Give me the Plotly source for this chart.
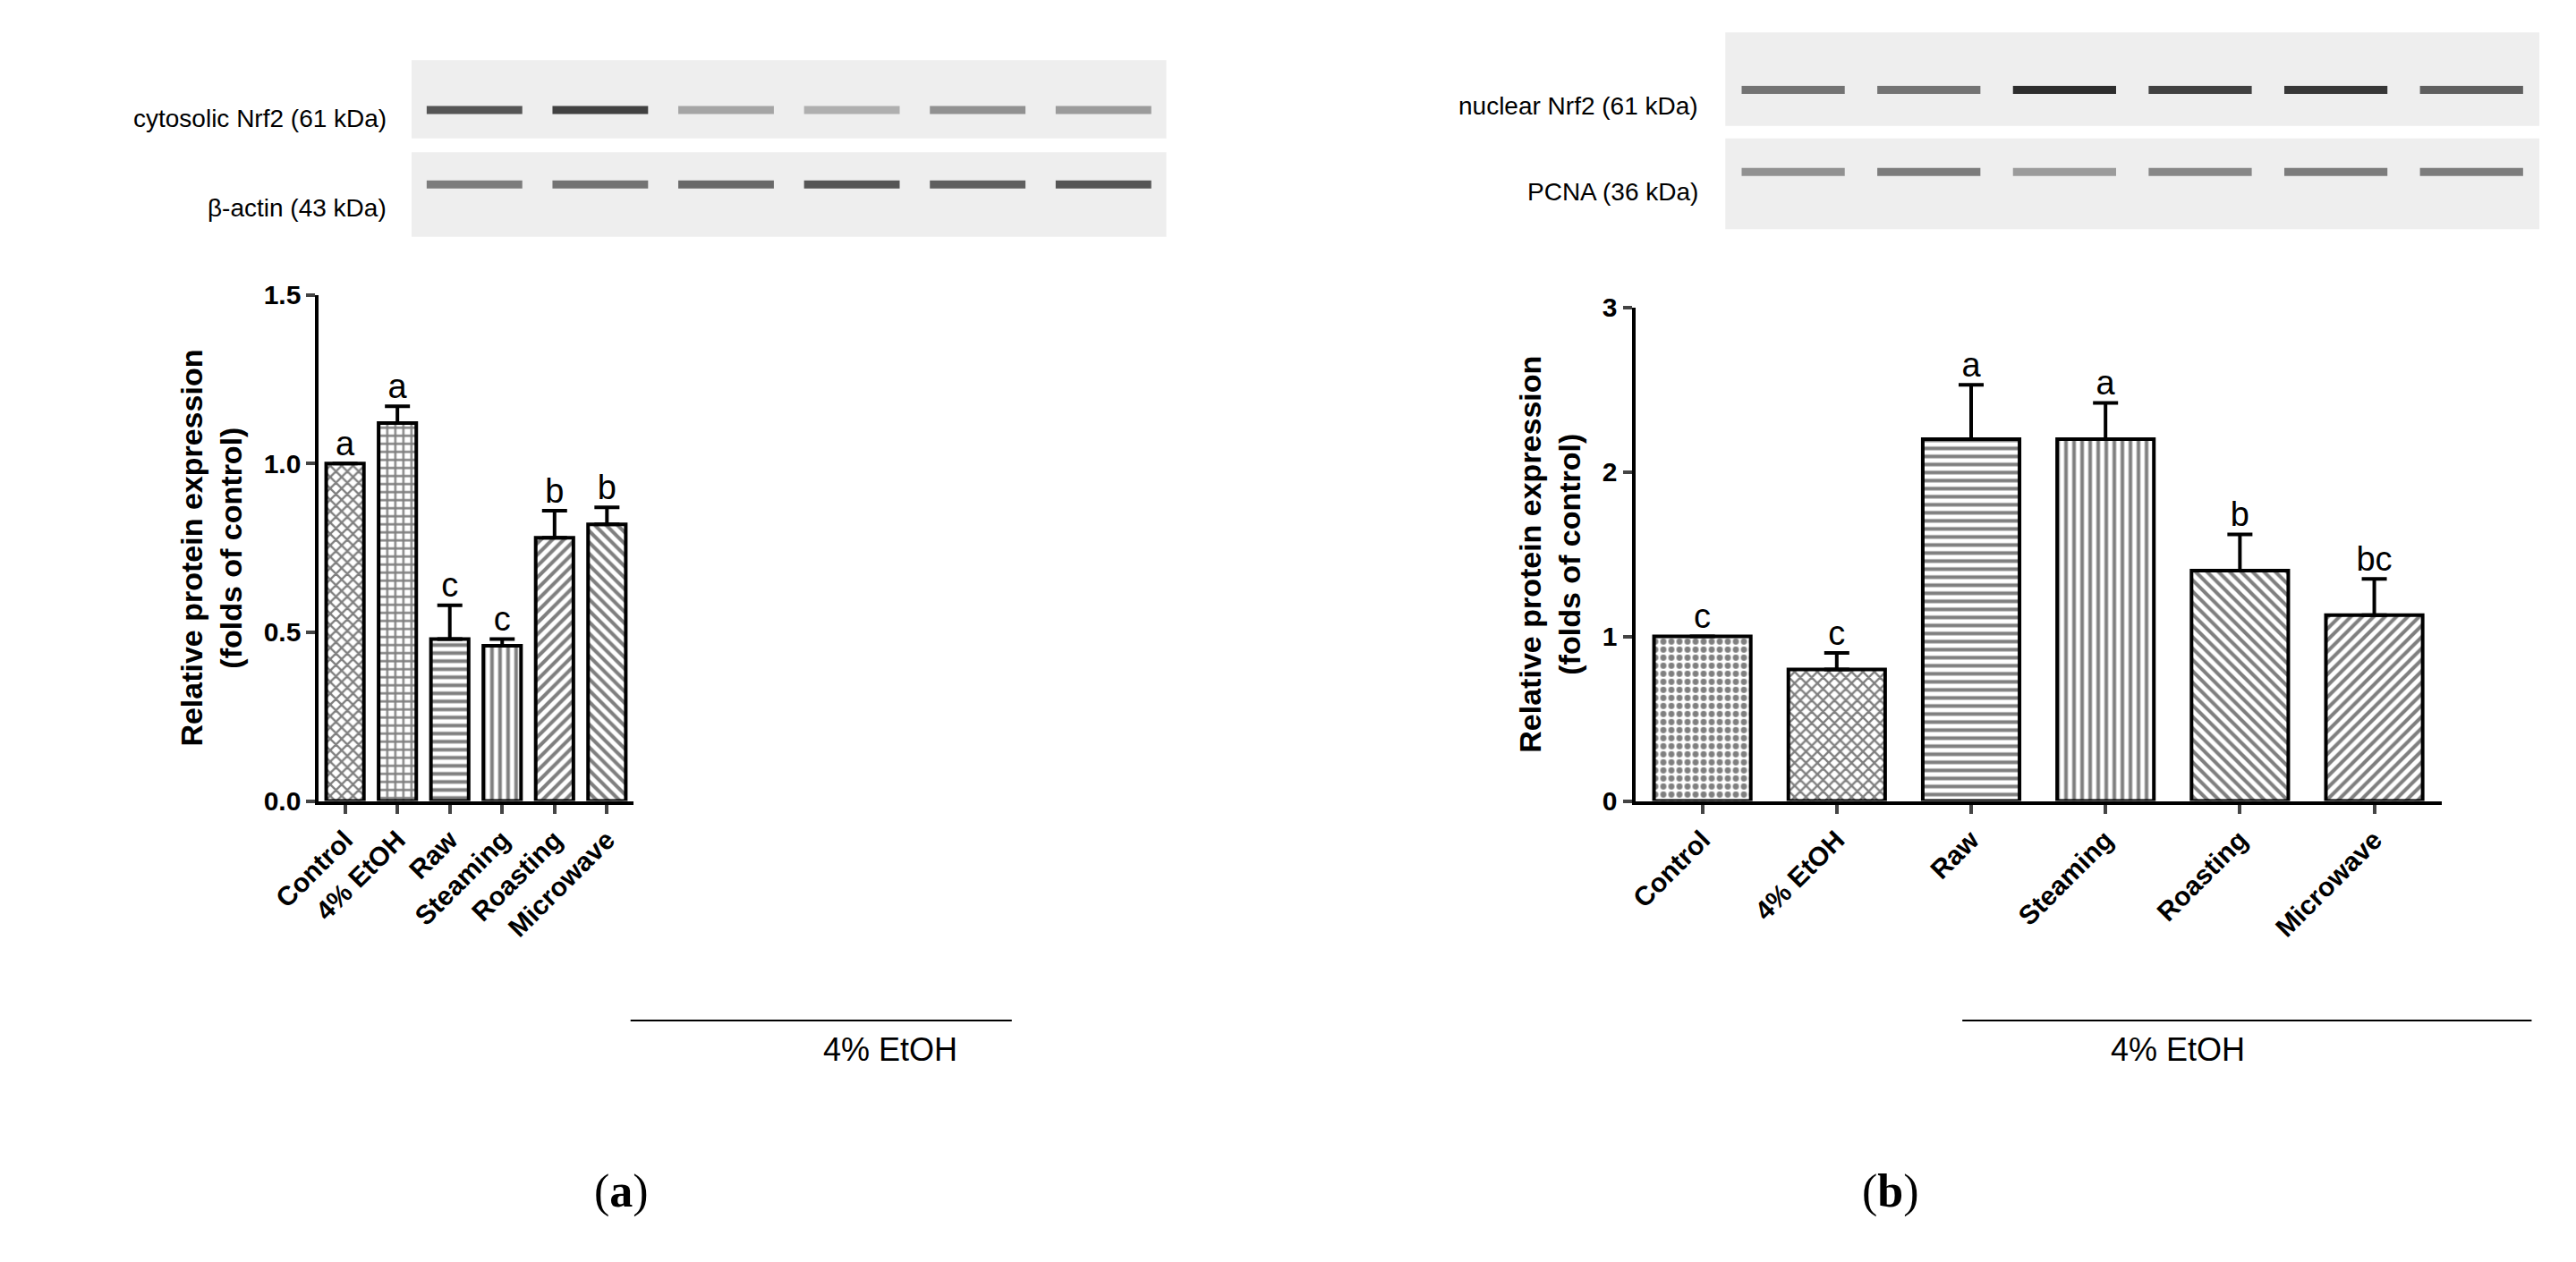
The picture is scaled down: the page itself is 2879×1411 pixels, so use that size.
import plotly.graph_objects as go

groups = ["Control", "4% EtOH", "Raw", "Steaming", "Roasting", "Microwave"]

cyto_mean = [1.00, 1.12, 0.48, 0.46, 0.78, 0.82]
cyto_err = [0.0, 0.05, 0.10, 0.02, 0.08, 0.05]
cyto_letters = ["a", "a", "c", "c", "b", "b"]
cyto_patterns = ["x", "+", "-", "|", "/", "\\"]

nuc_mean = [1.00, 0.80, 2.20, 2.20, 1.40, 1.13]
nuc_err = [0.0, 0.10, 0.33, 0.22, 0.22, 0.22]
nuc_letters = ["c", "c", "a", "a", "b", "bc"]
nuc_patterns = [".", "x", "-", "|", "\\", "/"]

# blot band darkness (0 = none, 1 = black)
cyto_nrf2_band = [0.75, 0.85, 0.35, 0.3, 0.45, 0.4]
cyto_actin_band = [0.55, 0.6, 0.65, 0.75, 0.7, 0.75]
nuc_nrf2_band = [0.6, 0.6, 0.95, 0.85, 0.9, 0.7]
nuc_pcna_band = [0.45, 0.55, 0.4, 0.5, 0.55, 0.55]

FONT = "Liberation Sans, Arial"
fig = go.Figure()


def add_bars(mean, err, letters, patterns, xa, ya):
    fig.add_trace(go.Bar(
        x=groups, y=mean, xaxis=xa, yaxis=ya, width=0.72,
        marker=dict(color="white", line=dict(color="black", width=4),
                    pattern=dict(shape=patterns, fgcolor="black", size=9, solidity=0.45)),
        error_y=dict(type="data", symmetric=False, array=err, arrayminus=[0] * len(err),
                     color="black", thickness=4, width=14),
        showlegend=False))
    fig.add_trace(go.Scatter(
        x=groups, y=[m + e for m, e in zip(mean, err)], xaxis=xa, yaxis=ya,
        mode="text", text=letters, textposition="top center",
        textfont=dict(size=38, family=FONT, color="black"), showlegend=False))


def add_blot(rows, xa, ya):
    for r, row in enumerate(rows):
        for i, v in enumerate(row):
            g = int(235 - 200 * v)
            fig.add_trace(go.Scatter(
                x=[i + 0.62, i + 1.38], y=[r, r], xaxis=xa, yaxis=ya, mode="lines",
                line=dict(color=f"rgb({g},{g},{g})", width=9), showlegend=False,
                hoverinfo="skip"))


add_bars(cyto_mean, cyto_err, cyto_letters, cyto_patterns, "x", "y")
add_bars(nuc_mean, nuc_err, nuc_letters, nuc_patterns, "x2", "y2")
add_blot([cyto_actin_band, cyto_nrf2_band], "x3", "y3")
add_blot([nuc_pcna_band, nuc_nrf2_band], "x4", "y4")

tickfont = dict(size=30, family=FONT, color="black", weight="bold")
ytitle = dict(text="<b>Relative protein expression<br>(folds of control)</b>",
              font=dict(size=34, family=FONT, color="black"))
common_x = dict(showline=True, linecolor="black", linewidth=4, ticks="outside",
                ticklen=10, tickwidth=4, tickangle=-45, tickfont=tickfont)
common_y = dict(showline=True, linecolor="black", linewidth=4, ticks="outside",
                ticklen=10, tickwidth=4, showgrid=False, zeroline=False,
                tickfont=tickfont, title=ytitle)
blot_ax = dict(visible=False, range=[0.5, 6.5])

fig.update_layout(
    width=2879, height=1411, plot_bgcolor="white", paper_bgcolor="white",
    margin=dict(l=0, r=0, t=0, b=0, autoexpand=False), bargap=0.28,
    xaxis=dict(domain=[0.121, 0.243], anchor="y", **common_x),
    yaxis=dict(domain=[0.371, 0.772], anchor="x", range=[0, 1.5], tickvals=[0, 0.5, 1.0, 1.5],
               ticktext=["0.0", "0.5", "1.0", "1.5"], **common_y),
    xaxis2=dict(domain=[0.632, 0.945], anchor="y2", **common_x),
    yaxis2=dict(domain=[0.371, 0.762], anchor="x2", range=[0, 3], tickvals=[0, 1, 2, 3], **common_y),
    xaxis3=dict(domain=[0.157, 0.45], anchor="y3", **blot_ax),
    yaxis3=dict(domain=[0.818, 0.96], anchor="x3", range=[-0.7, 1.7], visible=False),
    xaxis4=dict(domain=[0.667, 0.983], anchor="y4", **blot_ax),
    yaxis4=dict(domain=[0.824, 0.98], anchor="x4", range=[-0.7, 1.7], visible=False),
)

# blot backgrounds
for x0, x1, y0, y1 in [(0.157, 0.45, 0.896, 0.958), (0.157, 0.45, 0.818, 0.885),
                       (0.667, 0.983, 0.906, 0.98), (0.667, 0.983, 0.824, 0.896)]:
    fig.add_shape(type="rect", xref="paper", yref="paper", x0=x0, x1=x1, y0=y0, y1=y1,
                  fillcolor="rgb(238,238,238)", line=dict(width=0), layer="below")

labels = [("cytosolic Nrf2 (61 kDa)", 0.148, 0.924), ("β-actin (43 kDa)", 0.148, 0.853),
          ("nuclear Nrf2 (61 kDa)", 0.657, 0.934), ("PCNA (36 kDa)", 0.657, 0.866)]
for t, x, y in labels:
    fig.add_annotation(text=t, x=x, y=y, xref="paper", yref="paper", showarrow=False,
                       xanchor="right", font=dict(size=28, family=FONT, color="black"))

# treatment brackets
for x0, x1 in [(0.242, 0.39), (0.759, 0.98)]:
    fig.add_shape(type="line", xref="paper", yref="paper", x0=x0, x1=x1, y0=0.197, y1=0.197,
                  line=dict(color="black", width=2))
    fig.add_annotation(text="4% EtOH", x=(x0 + x1) / 2, y=0.19, xref="paper", yref="paper",
                       showarrow=False, yanchor="top", font=dict(size=36, family=FONT, color="black"))

for t, x in [("(<b>a</b>)", 0.227), ("(<b>b</b>)", 0.743)]:
    fig.add_annotation(text=t, x=x, y=0.04, xref="paper", yref="paper", showarrow=False,
                       font=dict(size=52, family="Liberation Serif, Times New Roman", color="black"))

fig.write_html("out.html")
